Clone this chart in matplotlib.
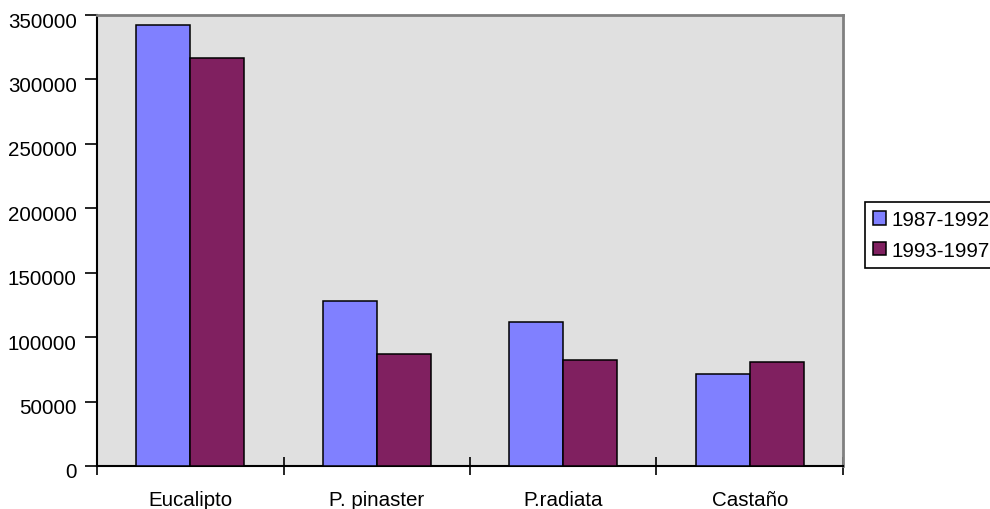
import matplotlib
matplotlib.use("Agg")
import matplotlib.pyplot as plt
import matplotlib.transforms as mtransforms
import numpy as np

categories = ["Eucalipto", "P. pinaster", "P.radiata", "Castaño"]
series_names = ["1987-1992", "1993-1997"]
values_1987_1992 = [342000, 128000, 112000, 71500]
values_1993_1997 = [317000, 87000, 82500, 81000]
colors = ["#8080FF", "#802060"]
yticks = [0, 50000, 100000, 150000, 200000, 250000, 300000, 350000]

plt.rcParams['font.family'] = ['Liberation Sans', 'DejaVu Sans']
FS = 14.8

fig = plt.figure(figsize=(9.9, 5.1), dpi=100)
ax = fig.add_axes([97/990, 43/510, (843-97)/990, (467-16)/510])
ax.set_facecolor("#E0E0E0")

x = np.arange(len(categories)) + 0.5
w = 0.289
ax.bar(x - w/2, values_1987_1992, w, color=colors[0], edgecolor="black", linewidth=1.1, label=series_names[0], zorder=3)
ax.bar(x + w/2, values_1993_1997, w, color=colors[1], edgecolor="black", linewidth=1.1, label=series_names[1], zorder=3)

ax.set_xlim(0, len(categories))
ax.set_ylim(0, 350000)
ax.set_yticks(yticks)
ax.set_yticklabels([str(t) for t in yticks])
ax.set_xticks(np.arange(len(categories) + 1))
ax.set_xticklabels([])
ax.set_xticks(x, minor=True)
ax.set_xticklabels(categories, minor=True)
ax.tick_params(axis='x', which='major', direction='inout', length=13, width=1.2)
ax.tick_params(axis='x', which='minor', length=0, pad=17, labelsize=FS)
ax.tick_params(axis='y', direction='out', length=9, width=1.2, labelsize=FS, pad=5.5)

offset = mtransforms.ScaledTranslation(0, -4/100, fig.dpi_scale_trans)
for lbl in ax.get_yticklabels():
    lbl.set_transform(lbl.get_transform() + offset)

for s in ['left', 'bottom']:
    ax.spines[s].set_color('black')
    ax.spines[s].set_linewidth(1.5)
for s in ['top', 'right']:
    ax.spines[s].set_color('#808080')
    ax.spines[s].set_linewidth(2)

leg = ax.legend(loc='upper left', bbox_to_anchor=(865/990, 1 - 203/510), bbox_transform=fig.transFigure,
                fontsize=FS, frameon=True, fancybox=False, framealpha=1, edgecolor='black',
                handlelength=0.6, handleheight=0.6, handletextpad=0.3, borderpad=0.4, labelspacing=0.55,
                borderaxespad=0)
leg.get_frame().set_linewidth(1.2)

fig.savefig("out.png", dpi=100)
